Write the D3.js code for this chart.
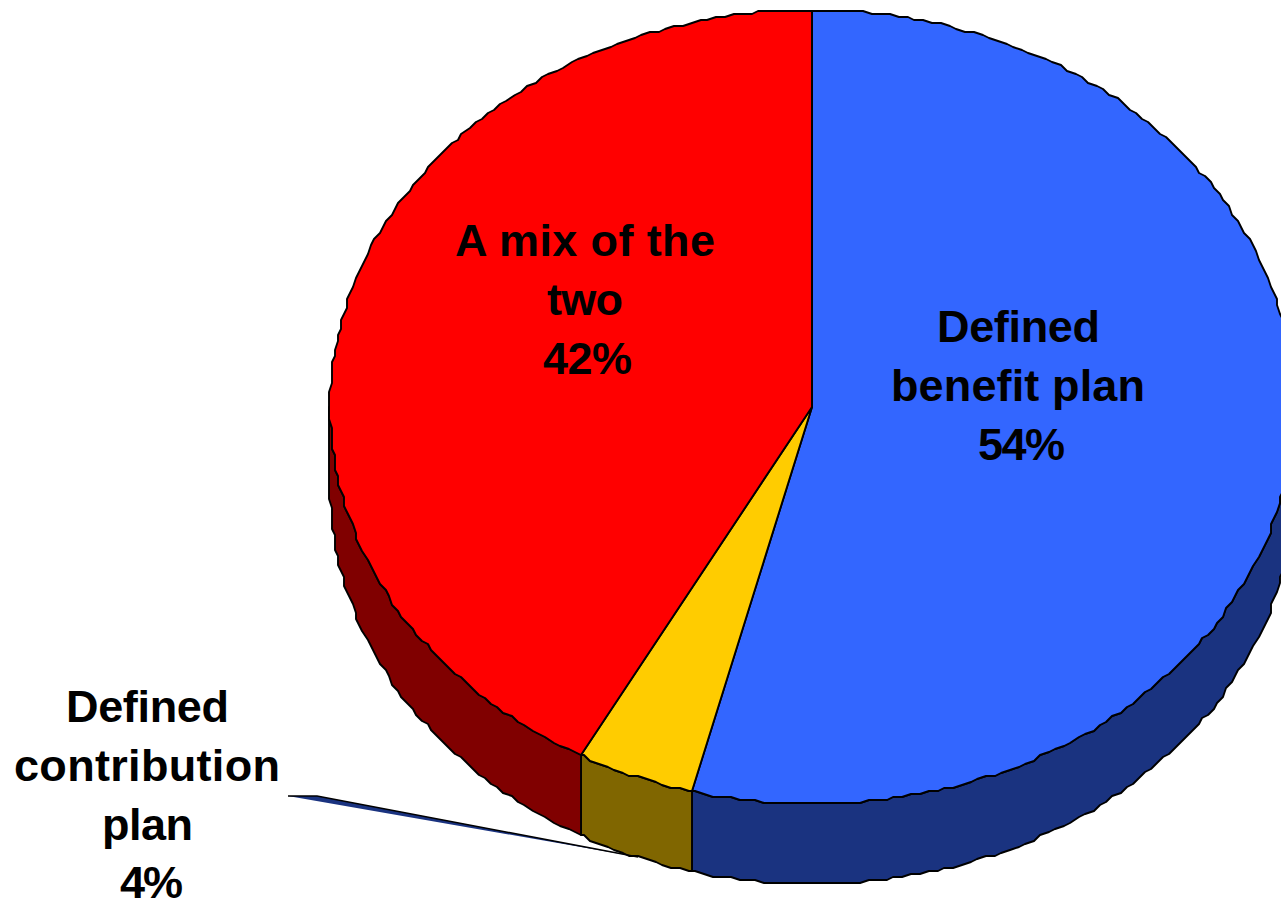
<!DOCTYPE html>
<html>
<head>
<meta charset="utf-8">
<script src="https://cdn.jsdelivr.net/npm/d3@7"></script>
<style>
html,body{margin:0;padding:0;background:#fff;overflow:hidden}
svg{display:block}
text{font-family:"Liberation Sans",Arial,sans-serif;font-weight:700;font-size:45px;fill:#000;text-anchor:middle}
</style>
</head>
<body>
<script>
const categories = ["Defined benefit plan", "Defined contribution plan", "A mix of the two"];
const shares = [54, 4, 42];
const topColors = ["#3366ff", "#ffcc00", "#ff0000"];
const wallColors = ["#1a3380", "#806600", "#800000"];
const labelLines = [
  ["Defined", "benefit plan", "54%"],
  ["Defined", "contribution", "plan", "4%"],
  ["A mix of the", "two", "42%"]
];
const labelX = [
  [1018.5, 1018, 1021.5],
  [147.5, 147, 147.5, 151.5],
  [585, 585, 587.5]
];
const labelWidth = [
  [163, 254, 87],
  [163, 266, 91, 63],
  [260, 76, 89]
];
const labelBaseline = [342, 722, 256];
const lineGap = 58.8;
const leader = [[288, 796], [317, 796], [638, 857]];

const W = 1281, H = 901, cx = 812, cy = 407, rx = 482, ry = 397, depth = 80, grid = 3, stroke = 1.9, step = 0.018;
const x = d3.scaleLinear().domain([-1, 1]).range([-rx, rx]);
const y = d3.scaleLinear().domain([-1, 1]).range([-ry, ry]);

const svg = d3.select("body").append("svg").attr("width", W).attr("height", H).attr("viewBox", `0 0 ${W} ${H}`);
const arcs = d3.pie().sort(null)(shares);
const line = d3.line();
const snap = v => Math.round(v / grid) * grid;
const pt = (a, dz = 0) => [cx + snap(x(Math.sin(a))), cy + snap(y(-Math.cos(a))) + dz];
// Angles on one shared grid, so neighbouring faces trace the same rim
const sample = (a0, a1) => {
  const inner = d3.range(Math.ceil(a0 / step), Math.floor(a1 / step) + 1).map(k => k * step).filter(a => a > a0 && a < a1);
  return [a0, ...inner, a1];
};

// Side walls: only the front half of the rim is visible
const frontStart = Math.PI / 2, frontEnd = Math.PI * 1.5;
arcs.forEach((d, i) => {
  const a0 = Math.max(d.startAngle, frontStart), a1 = Math.min(d.endAngle, frontEnd);
  if (a1 <= a0) return;
  const angles = sample(a0, a1);
  const poly = angles.map(a => pt(a)).concat(angles.slice().reverse().map(a => pt(a, depth)));
  svg.append("path").attr("d", line(poly) + "Z")
    .attr("fill", wallColors[i]).attr("stroke", "#000").attr("stroke-width", stroke).attr("stroke-linejoin", "round");
});

// Top faces
arcs.forEach((d, i) => {
  const poly = [[cx, cy]].concat(sample(d.startAngle, d.endAngle).map(a => pt(a)));
  svg.append("path").attr("d", line(poly) + "Z")
    .attr("fill", topColors[i]).attr("stroke", "#000").attr("stroke-width", stroke).attr("stroke-linejoin", "round");
});

// Leader for the small slice
svg.append("path").attr("d", line(leader) + "Z").attr("fill", wallColors[0]);
svg.append("path").attr("d", line(leader)).attr("fill", "none").attr("stroke", "#000").attr("stroke-width", 1.5);

// Labels
labelLines.forEach((lines, i) => {
  const t = svg.append("text").attr("aria-label", categories[i]);
  lines.forEach((s, j) => t.append("tspan")
    .attr("x", labelX[i][j])
    .attr("y", labelBaseline[i] + j * lineGap)
    .attr("textLength", labelWidth[i][j])
    .attr("lengthAdjust", "spacing")
    .text(s));
});
</script>
</body>
</html>
